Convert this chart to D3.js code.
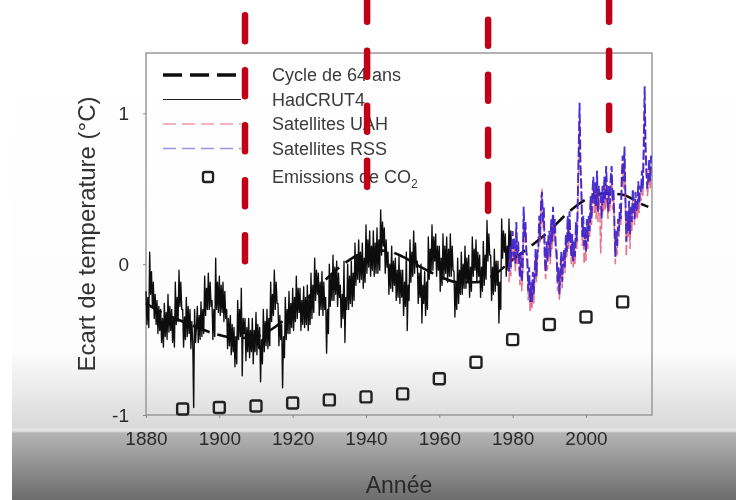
<!DOCTYPE html>
<html>
<head>
<meta charset="utf-8">
<script src="https://cdn.jsdelivr.net/npm/d3@7"></script>
<style>
  body { margin: 0; background: #fff; }
  svg { display: block; font-family: "Liberation Sans", Arial, sans-serif; }
</style>
</head>
<body>
<div class="canvas"></div>
<script>
// ---- data ----
// HadCRUT4, four readings per year from 1880 (one row per year)
const hadStart = 1880;
const hadStep = 0.25;
const hadcrut = [
  -0.18, -0.40, -0.22, -0.42,   0.08, -0.20, -0.05, -0.28,   -0.12, -0.36, -0.20, -0.40,
  -0.24, -0.46, -0.28, -0.44,   -0.30, -0.52, -0.36, -0.55,  -0.26, -0.48, -0.32, -0.50,
  -0.20, -0.45, -0.28, -0.44,   -0.30, -0.52, -0.35, -0.55,  -0.12, -0.40, -0.22, -0.38,
  -0.04, -0.28, -0.12, -0.30,
  -0.30, -0.55, -0.35, -0.50,   -0.22, -0.48, -0.28, -0.46,  -0.30, -0.56, -0.38, -0.52,
  -0.95, -0.30, -0.52, -0.42,   -0.28, -0.52, -0.34, -0.50,  -0.25, -0.48, -0.30, -0.46,
  -0.08, -0.34, -0.16, -0.30,   -0.06, -0.30, -0.12, -0.28,  -0.24, -0.50, -0.30, -0.48,
  0.04, -0.30, -0.12, -0.32,
  -0.08, -0.34, -0.14, -0.32,   -0.12, -0.38, -0.18, -0.36,  -0.30, -0.56, -0.36, -0.54,
  -0.34, -0.60, -0.40, -0.58,   -0.42, -0.68, -0.48, -0.66,  -0.24, -0.50, -0.30, -0.48,
  -0.16, -0.74, -0.36, -0.46,   -0.36, -0.64, -0.42, -0.58,  -0.36, -0.62, -0.44, -0.58,
  -0.36, -0.66, -0.44, -0.58,
  -0.32, -0.60, -0.40, -0.56,   -0.42, -0.78, -0.50, -0.66,  -0.30, -0.58, -0.38, -0.54,
  -0.30, -0.56, -0.36, -0.54,   -0.12, -0.38, -0.20, -0.34,  -0.04, -0.30, -0.12, -0.26,
  -0.26, -0.54, -0.34, -0.50,   -0.40, -0.82, -0.48, -0.62,  -0.22, -0.50, -0.30, -0.46,
  -0.18, -0.46, -0.26, -0.42,
  -0.16, -0.44, -0.22, -0.38,   -0.08, -0.36, -0.16, -0.32,  -0.16, -0.44, -0.24, -0.40,
  -0.15, -0.42, -0.22, -0.40,   -0.14, -0.44, -0.22, -0.40,  -0.06, -0.36, -0.14, -0.32,
  0.04, -0.24, -0.04, -0.20,    -0.06, -0.34, -0.12, -0.30,  -0.05, -0.34, -0.12, -0.30,
  -0.22, -0.59, -0.30, -0.46,
  0.00, -0.28, -0.08, -0.24,    0.06, -0.24, -0.02, -0.20,   0.02, -0.28, -0.06, -0.22,
  -0.14, -0.42, -0.20, -0.36,   0.02, -0.52, -0.22, -0.30,   0.00, -0.30, -0.08, -0.26,
  0.02, -0.28, -0.06, -0.24,    0.14, -0.14, 0.06, -0.10,    0.16, -0.12, 0.08, -0.10,
  0.14, -0.16, 0.04, -0.12,
  0.26, -0.06, 0.16, -0.02,     0.22, -0.08, 0.12, -0.04,    0.22, -0.08, 0.14, -0.06,
  0.24, -0.06, 0.16, -0.04,     0.36, 0.06, 0.28, 0.12,      0.24, -0.06, 0.16, -0.02,
  0.08, -0.20, 0.00, -0.16,     0.12, -0.18, 0.02, -0.14,    0.04, -0.24, -0.04, -0.22,
  0.05, -0.26, -0.04, -0.22,
  -0.04, -0.34, -0.12, -0.28,   0.08, -0.44, -0.14, -0.24,   0.16, -0.12, 0.08, -0.08,
  0.22, -0.06, 0.14, -0.02,     0.02, -0.26, -0.06, -0.22,   0.00, -0.39, -0.14, -0.26,
  -0.05, -0.34, -0.12, -0.30,   0.18, -0.10, 0.10, -0.06,    0.26, -0.04, 0.18, 0.02,
  0.20, -0.08, 0.12, -0.04,
  0.12, -0.18, 0.04, -0.14,     0.20, -0.10, 0.12, -0.06,    0.18, -0.12, 0.10, -0.08,
  0.20, -0.08, 0.12, -0.04,     -0.05, -0.35, -0.12, -0.30,  0.04, -0.26, -0.04, -0.20,
  0.08, -0.20, 0.00, -0.16,     0.12, -0.16, 0.04, -0.12,    0.06, -0.22, -0.02, -0.18,
  0.18, -0.08, 0.10, -0.04,
  0.16, -0.12, 0.08, -0.08,     0.06, -0.22, -0.02, -0.18,   0.15, -0.14, 0.06, -0.10,
  0.29, 0.02, 0.20, 0.06,       0.06, -0.24, -0.02, -0.20,   0.10, -0.18, 0.02, -0.14,
  0.02, -0.39, -0.12, -0.30,    0.30, 0.04, 0.22, 0.08,      0.20, -0.08, 0.12, -0.04,
  0.30, 0.02, 0.22, 0.06
];

// satellites, four readings per year from 1979 (one row per year)
const satStart = 1979;
const satStep = 0.25;
const uah = [
  -0.12, 0.05, -0.08, 0.10,   0.15, 0.02, 0.12, -0.05,    0.22, 0.00, 0.10, -0.04,
  -0.14, 0.02, -0.18, -0.05,  0.32, 0.14, 0.24, 0.04,     0.00, -0.24, -0.08, -0.32,
  -0.18, -0.30, -0.10, -0.26, -0.10, 0.05, -0.12, 0.04,   0.08, 0.28, 0.14, 0.38,
  0.50, 0.24, 0.34, 0.00,     -0.10, 0.10, -0.04, 0.14,   0.18, 0.00, 0.25, 0.10,
  0.32, 0.15, 0.25, 0.08,     0.02, -0.18, -0.06, -0.24,  -0.10, 0.04, -0.16, -0.02,
  0.05, -0.06, 0.15, 0.04,    0.28, 0.10, 0.30, 0.12,     0.00, 0.15, -0.02, 0.10,
  0.00, 0.22, 0.10, 0.36,     0.70, 0.95, 0.60, 0.45,     0.12, 0.26, 0.00, 0.20,
  0.02, 0.24, 0.10, 0.26,     0.18, 0.40, 0.26, 0.42,     0.52, 0.34, 0.48, 0.30,
  0.56, 0.28, 0.46, 0.38,     0.07, 0.26, 0.45, 0.34,     0.52, 0.36, 0.58, 0.42,
  0.30, 0.46, 0.35, 0.52,     0.60, 0.36, 0.44, 0.22,     0.00, 0.16, 0.06, 0.24,
  0.18, 0.34, 0.26, 0.52,     0.66, 0.50, 0.72, 0.40,     0.05, 0.30, 0.18, 0.36,
  0.10, 0.32, 0.22, 0.44,     0.38, 0.26, 0.42, 0.30,     0.30, 0.48, 0.34, 0.46,
  0.42, 0.55, 0.45, 0.72,     1.05, 0.72, 0.56, 0.45,     0.52, 0.64, 0.50, 0.65
];
const rss = [
  -0.05, 0.12, -0.02, 0.15,   0.22, 0.05, 0.18, 0.00,     0.28, 0.05, 0.15, 0.02,
  -0.08, 0.08, -0.12, 0.00,   0.38, 0.18, 0.28, 0.08,     0.05, -0.18, -0.02, -0.25,
  -0.12, -0.25, -0.05, -0.20, -0.05, 0.10, -0.08, 0.08,   0.12, 0.32, 0.18, 0.42,
  0.48, 0.28, 0.38, 0.05,     -0.05, 0.15, 0.02, 0.18,    0.22, 0.05, 0.30, 0.15,
  0.38, 0.20, 0.30, 0.12,     0.08, -0.12, -0.02, -0.20,  -0.05, 0.08, -0.12, 0.02,
  0.10, -0.02, 0.20, 0.08,    0.32, 0.15, 0.35, 0.18,     0.05, 0.20, 0.02, 0.15,
  0.05, 0.28, 0.15, 0.42,     0.75, 1.07, 0.65, 0.50,     0.18, 0.32, 0.12, 0.25,
  0.08, 0.30, 0.15, 0.32,     0.22, 0.45, 0.30, 0.48,     0.58, 0.40, 0.55, 0.38,
  0.62, 0.35, 0.52, 0.45,     0.48, 0.30, 0.52, 0.40,     0.58, 0.42, 0.65, 0.48,
  0.35, 0.52, 0.40, 0.58,     0.65, 0.42, 0.50, 0.28,     0.05, 0.22, 0.12, 0.30,
  0.22, 0.40, 0.30, 0.58,     0.72, 0.55, 0.78, 0.45,     0.15, 0.35, 0.22, 0.42,
  0.20, 0.38, 0.28, 0.50,     0.42, 0.30, 0.48, 0.36,     0.35, 0.55, 0.40, 0.52,
  0.48, 0.62, 0.50, 0.80,     1.18, 0.78, 0.62, 0.50,     0.58, 0.70, 0.55, 0.72
];

// 64-year cycle (year, value)
const cycleYears = [1880, 1885, 1890, 1895, 1900, 1905, 1910, 1915, 1920, 1925,
  1930, 1935, 1940, 1945, 1950, 1955, 1960, 1965, 1970, 1975,
  1980, 1985, 1990, 1995, 2000, 2005, 2010, 2015, 2017];
const cycleValues = [-0.26, -0.33, -0.38, -0.43, -0.47, -0.49, -0.48, -0.42, -0.32, -0.20,
  -0.08, 0.02, 0.08, 0.09, 0.05, -0.02, -0.08, -0.12, -0.12, -0.07,
  0.03, 0.12, 0.22, 0.34, 0.43, 0.47, 0.46, 0.40, 0.38];

// CO2 emissions markers
const co2Years = [1890, 1900, 1910, 1920, 1930, 1940, 1950, 1960, 1970, 1980, 1990, 2000, 2010];
const co2Values = [-0.96, -0.95, -0.94, -0.92, -0.90, -0.88, -0.86, -0.76, -0.65, -0.50, -0.40, -0.35, -0.25];

// red annotation lines (year, top value, bottom value)
const markYears = [1907, 1940.3, 1973.3, 2006.3];
const markTops = [1.65, 1.78, 1.62, 1.78];
const markBottoms = [-0.02, 0.46, 0.29, 0.89];

const xTicks = [1880, 1900, 1920, 1940, 1960, 1980, 2000];
const yTicks = [-1, 0, 1];

const legendLabels = ["Cycle de 64 ans", "HadCRUT4", "Satellites UAH", "Satellites RSS", "Emissions de CO"];

// ---- layout ----
const width = 736;
const height = 500;
const margin = { top: 53, right: 84, bottom: 85, left: 146 };
const graphWidth = width - margin.left - margin.right;
const graphHeight = height - margin.top - margin.bottom;

const svg = d3
  .select(".canvas")
  .append("svg")
  .attr("width", width)
  .attr("height", height);

//background: white frame fading to the grey band of the video frame
const defs = svg.append("defs");
const grad = defs
  .append("linearGradient")
  .attr("id", "bg")
  .attr("x1", 0).attr("x2", 0).attr("y1", 0).attr("y2", 1);
[
  [0, "#ffffff"],
  [0.7, "#fdfdfd"],
  [0.855, "#d9d9d9"],
  [0.858, "#e4e4e4"],
  [0.862, "#e2e2e2"],
  [0.866, "#b4b4b4"],
  [1, "#6c6c6c"]
].forEach(s => grad.append("stop").attr("offset", s[0]).attr("stop-color", s[1]));

svg.append("rect").attr("width", width).attr("height", height).attr("fill", "url(#bg)");
svg.append("rect").attr("width", 12).attr("height", height).attr("fill", "#fff");

defs.append("filter").attr("id", "soft")
  .append("feGaussianBlur").attr("stdDeviation", 0.6);

const root = svg.append("g").attr("filter", "url(#soft)");

const graph = root
  .append("g")
  .attr("transform", `translate(${margin.left}, ${margin.top})`);

//scales
const x = d3.scaleLinear().domain([1880, 2018]).range([0, graphWidth]);
const y = d3.scaleLinear().domain([-1, 1.4]).range([graphHeight, 0]);

//frame
graph
  .append("rect")
  .attr("width", graphWidth)
  .attr("height", graphHeight)
  .attr("fill", "none")
  .attr("stroke", "#9a9a9a")
  .attr("stroke-width", 1.5);

//axes
const xAxisGroup = graph
  .append("g")
  .attr("transform", `translate(0, ${graphHeight})`)
  .call(d3.axisBottom(x).tickValues(xTicks).tickFormat(d3.format("d")).tickSize(3).tickPadding(14));

const yAxisGroup = graph
  .append("g")
  .call(d3.axisLeft(y).tickValues(yTicks).tickFormat(d => d).tickSize(3).tickPadding(14));

[xAxisGroup, yAxisGroup].forEach(g => {
  g.select(".domain").remove();
  g.selectAll("line").attr("stroke", "#888");
  g.selectAll("text")
    .attr("font-size", 19)
    .attr("fill", "#2a2a2a")
    .attr("font-family", "Liberation Sans, Arial, sans-serif");
});

//axis titles
root
  .append("text")
  .attr("x", margin.left + x(1949))
  .attr("y", 493)
  .attr("text-anchor", "middle")
  .attr("font-size", 23)
  .attr("fill", "#2a2a2a")
  .text("Année");

root
  .append("text")
  .attr("transform", `translate(95, ${margin.top + y(0.2)}) rotate(-90)`)
  .attr("text-anchor", "middle")
  .attr("font-size", 24)
  .attr("fill", "#333")
  .text("Ecart de temperature (°C)");

//line generator
const line = d3
  .line()
  .x(d => x(d[0]))
  .y(d => y(d[1]));

const hadData = hadcrut.map((v, i) => [hadStart + i * hadStep, v]);
const uahData = uah.map((v, i) => [satStart + i * satStep, v]);
const rssData = rss.map((v, i) => [satStart + i * satStep, v]);
const cycleData = cycleYears.map((yr, i) => [yr, cycleValues[i]]);

//cycle line sits under the measured series
graph
  .append("path")
  .datum(cycleData)
  .attr("fill", "none")
  .attr("stroke", "#111")
  .attr("stroke-width", 2.6)
  .attr("stroke-dasharray", "18,8")
  .attr("d", d3.line().x(d => x(d[0])).y(d => y(d[1])).curve(d3.curveMonotoneX));

graph
  .append("path")
  .datum(hadData)
  .attr("fill", "none")
  .attr("stroke", "#0d0d0d")
  .attr("stroke-width", 1.35)
  .attr("stroke-linejoin", "round")
  .attr("d", line);

graph
  .append("path")
  .datum(uahData)
  .attr("fill", "none")
  .attr("stroke", "#e0506e")
  .attr("stroke-width", 1.5)
  .attr("stroke-dasharray", "10,3")
  .attr("opacity", 0.8)
  .attr("d", line);

graph
  .append("path")
  .datum(rssData)
  .attr("fill", "none")
  .attr("stroke", "#3a22cc")
  .attr("stroke-width", 1.9)
  .attr("stroke-dasharray", "10,3")
  .attr("opacity", 0.92)
  .attr("d", line);

//CO2 squares
graph
  .selectAll("rect.co2")
  .data(co2Years)
  .enter()
  .append("rect")
  .attr("class", "co2")
  .attr("x", d => x(d) - 5.5)
  .attr("y", (d, i) => y(co2Values[i]) - 5.5)
  .attr("width", 11)
  .attr("height", 11)
  .attr("rx", 2)
  .attr("fill", "none")
  .attr("stroke", "#222")
  .attr("stroke-width", 2.4);

//legend
const legend = graph.append("g").attr("transform", "translate(17, 22)");
const rowGap = 24.5;
const legendStyles = [
  { stroke: "#111", width: 3.5, dash: "19,8" },
  { stroke: "#222", width: 1, dash: null },
  { stroke: "#f09aaa", width: 1.5, dash: "13,6" },
  { stroke: "#9a94e4", width: 1.5, dash: "13,6" },
  null
];
legendLabels.forEach((label, i) => {
  const ly = i < 4 ? i * rowGap : i * rowGap + 4;
  const st = legendStyles[i];
  if (st) {
    legend
      .append("line")
      .attr("x1", 0).attr("x2", 78)
      .attr("y1", ly).attr("y2", ly)
      .attr("stroke", st.stroke)
      .attr("stroke-width", st.width)
      .attr("stroke-dasharray", st.dash);
  } else {
    legend
      .append("rect")
      .attr("x", 40).attr("y", ly - 5)
      .attr("width", 10).attr("height", 10)
      .attr("rx", 2)
      .attr("fill", "none")
      .attr("stroke", "#222")
      .attr("stroke-width", 2.4);
  }
  const t = legend
    .append("text")
    .attr("x", 109)
    .attr("y", ly)
    .attr("dy", "0.35em")
    .attr("font-size", 18)
    .attr("fill", "#3a3a3a")
    .text(label);
  if (i === 4) {
    t.append("tspan").attr("font-size", 12).attr("dy", 5).text("2");
  }
});

//red dashed annotation lines
graph
  .selectAll("line.mark")
  .data(markYears)
  .enter()
  .append("line")
  .attr("class", "mark")
  .attr("x1", d => x(d))
  .attr("x2", d => x(d))
  .attr("y1", (d, i) => y(markTops[i]))
  .attr("y2", (d, i) => y(markBottoms[i]))
  .attr("stroke", "#c00012")
  .attr("stroke-width", 6.5)
  .attr("stroke-linecap", "round")
  .attr("stroke-dasharray", "26,29");
</script>
</body>
</html>
